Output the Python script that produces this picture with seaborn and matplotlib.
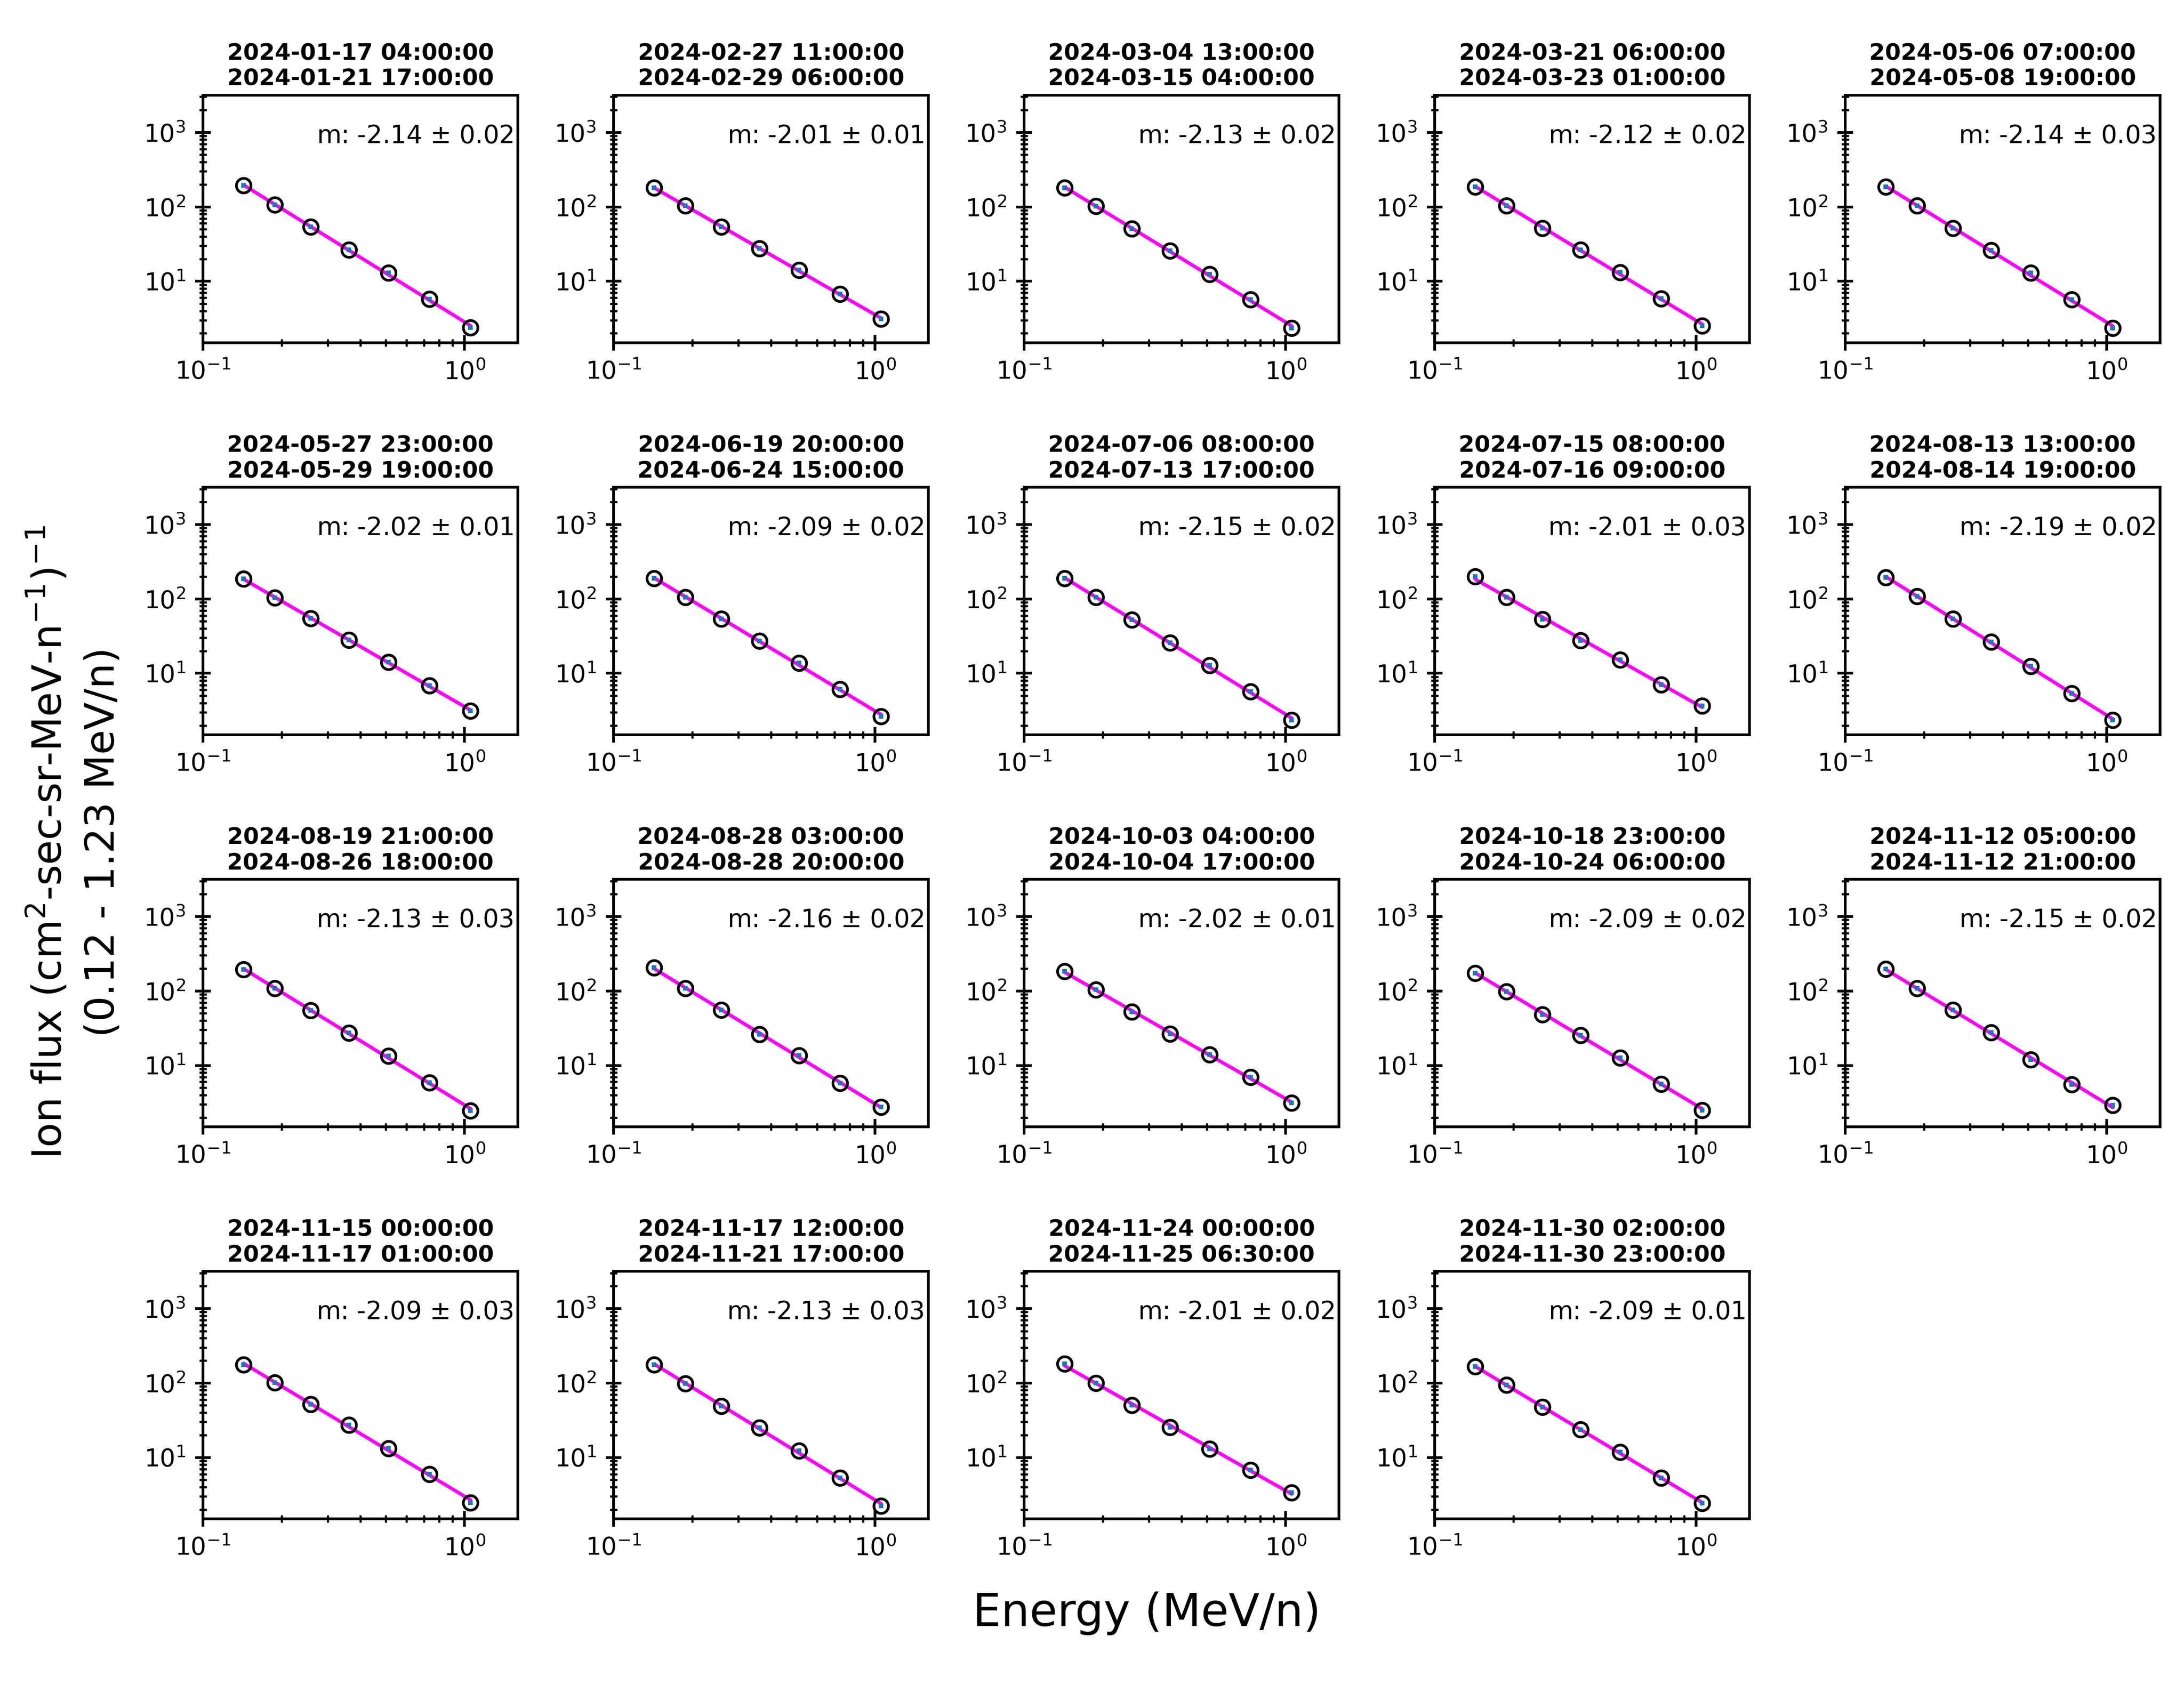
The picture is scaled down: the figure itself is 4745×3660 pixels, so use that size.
import numpy as np
import pandas as pd
import seaborn as sns
import matplotlib
matplotlib.use("Agg")
import matplotlib.pyplot as plt

# energy bins (MeV/n), same for every event
energy = [0.143, 0.188, 0.258, 0.362, 0.512, 0.733, 1.054]

starts = ["2024-01-17 04:00:00", "2024-02-27 11:00:00", "2024-03-04 13:00:00", "2024-03-21 06:00:00",
          "2024-05-06 07:00:00", "2024-05-27 23:00:00", "2024-06-19 20:00:00", "2024-07-06 08:00:00",
          "2024-07-15 08:00:00", "2024-08-13 13:00:00", "2024-08-19 21:00:00", "2024-08-28 03:00:00",
          "2024-10-03 04:00:00", "2024-10-18 23:00:00", "2024-11-12 05:00:00", "2024-11-15 00:00:00",
          "2024-11-17 12:00:00", "2024-11-24 00:00:00", "2024-11-30 02:00:00"]
ends = ["2024-01-21 17:00:00", "2024-02-29 06:00:00", "2024-03-15 04:00:00", "2024-03-23 01:00:00",
        "2024-05-08 19:00:00", "2024-05-29 19:00:00", "2024-06-24 15:00:00", "2024-07-13 17:00:00",
        "2024-07-16 09:00:00", "2024-08-14 19:00:00", "2024-08-26 18:00:00", "2024-08-28 20:00:00",
        "2024-10-04 17:00:00", "2024-10-24 06:00:00", "2024-11-12 21:00:00", "2024-11-17 01:00:00",
        "2024-11-21 17:00:00", "2024-11-25 06:30:00", "2024-11-30 23:00:00"]

slopes = [-2.14, -2.01, -2.13, -2.12, -2.14, -2.02, -2.09, -2.15, -2.01, -2.19,
          -2.13, -2.16, -2.02, -2.09, -2.15, -2.09, -2.13, -2.01, -2.09]
slope_err = [0.02, 0.01, 0.02, 0.02, 0.03, 0.01, 0.02, 0.02, 0.03, 0.02,
             0.03, 0.02, 0.01, 0.02, 0.02, 0.03, 0.03, 0.02, 0.01]

flux = [
    [193, 107, 53.7, 26.4, 13.0, 5.74, 2.38],
    [181, 103, 53.8, 27.6, 14.2, 6.72, 3.13],
    [181, 102, 50.6, 25.6, 12.5, 5.69, 2.37],
    [186, 104, 51.9, 26.4, 13.1, 5.87, 2.52],
    [186, 103, 51.3, 26.1, 12.9, 5.66, 2.34],
    [187, 104, 54.5, 28.0, 14.2, 6.84, 3.13],
    [189, 106, 53.9, 27.3, 13.7, 6.11, 2.65],
    [189, 105, 52.3, 25.9, 12.8, 5.66, 2.36],
    [199, 105, 53.1, 27.7, 15.1, 7.03, 3.65],
    [194, 108, 53.7, 26.6, 12.5, 5.38, 2.35],
    [194, 109, 54.7, 27.1, 13.4, 5.90, 2.45],
    [205, 109, 55.2, 26.2, 13.5, 5.78, 2.75],
    [183, 104, 52.2, 26.7, 13.9, 6.92, 3.16],
    [173, 98, 48.3, 25.5, 12.7, 5.61, 2.50],
    [198, 108, 55.2, 27.5, 11.9, 5.58, 2.93],
    [177, 101, 52.0, 27.4, 13.2, 5.93, 2.48],
    [177, 98.2, 49.0, 24.9, 12.3, 5.35, 2.24],
    [182, 99.5, 50.5, 25.5, 13.1, 6.74, 3.38],
    [166, 93.7, 47.3, 23.7, 11.8, 5.35, 2.42],
]

sns.set_style("ticks")
plt.rcParams["font.family"] = ["DejaVu Sans"]
plt.rcParams.update({
    "axes.linewidth": 1.4,
    "axes.edgecolor": "black",
    "text.color": "black",
    "axes.labelcolor": "black",
    "xtick.color": "black",
    "ytick.color": "black",
})

fig, axs = plt.subplots(4, 5, figsize=(15.817, 12.2), dpi=300)
fig.subplots_adjust(left=0.0929, right=0.9891, top=0.9435, bottom=0.0981, wspace=0.303, hspace=0.584)

for i, ax in enumerate(axs.flat):
    if i >= len(flux):
        ax.remove()
        continue
    ax.set_xscale("log")
    ax.set_yscale("log")
    df = pd.DataFrame({"energy": energy, "flux": flux[i]})
    # power law fit in log-log space
    p = np.polyfit(np.log10(df["energy"]), np.log10(df["flux"]), 1)
    df["fit"] = 10 ** np.polyval(p, np.log10(df["energy"]))

    sns.lineplot(data=df, x="energy", y="fit", ax=ax, color="magenta", lw=1.8, zorder=1)
    sns.lineplot(data=df, x="energy", y="flux", ax=ax, marker="o", linestyle="none",
                 markersize=7.6, markerfacecolor="none", markeredgecolor="black",
                 markeredgewidth=1.4, zorder=2)
    sns.lineplot(data=df, x="energy", y="flux", ax=ax, marker="s", linestyle="none",
                 markersize=2.3, color="#1f77b4", markeredgewidth=0, zorder=3)

    ax.set_xlim(0.1, 1.6)
    ax.set_ylim(1.5, 10 ** 3.5)
    ax.set_xlabel("")
    ax.set_ylabel("")
    ax.tick_params(which="major", direction="inout", length=8, width=1.4, labelsize=12.8, pad=5)
    ax.tick_params(which="minor", direction="inout", length=4, width=1.1)
    ax.set_title(f"{starts[i]}\n{ends[i]}", fontsize=11.9, fontweight="bold", pad=5)
    ax.text(0.985, 0.835, f"m: {slopes[i]:.2f} $\\pm$ {slope_err[i]:.2f}", transform=ax.transAxes,
            ha="right", va="center", fontsize=13.1)

fig.text(0.525, 0.042, "Energy (MeV/n)", ha="center", va="center", fontsize=23.5)
fig.text(0.034, 0.5, "Ion flux (cm$^2$-sec-sr-MeV-n$^{-1}$)$^{-1}$\n(0.12 - 1.23 MeV/n)",
         ha="center", va="center", rotation=90, fontsize=21, linespacing=1.45)

fig.savefig("out.png", dpi=300)
